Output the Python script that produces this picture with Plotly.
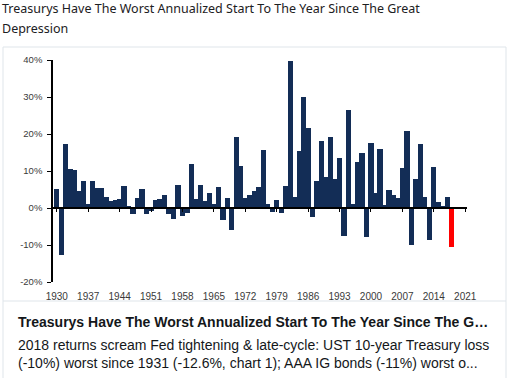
import plotly.graph_objects as go

years = list(range(1930, 2019))
returns_pct = [
    5.1, -12.6, 17.4, 10.6, 10.4, 4.7, 7.2, 1.1, 7.4, 5.5,
    5.3, 2.9, 1.9, 2.2, 2.4, 6.0, 0.6, -1.6, 2.8, 5.2,
    -1.5, -0.8, 2.1, 2.5, 3.5, -1.5, -3.0, 6.3, -2.2, -1.4,
    12.0, 2.4, 6.1, 2.0, 4.0, 1.1, 5.8, -3.2, 2.6, -5.9,
    19.3, 11.4, 2.8, 3.6, 4.5, 5.8, 15.7, 1.0, -1.0, 2.2,
    -1.3, 5.9, 39.7, 3.0, 15.5, 30.1, 21.6, -2.4, 7.2, 18.2,
    8.3, 19.2, 7.9, 13.5, -7.7, 26.4, 1.0, 12.3, 15.0, -7.8,
    17.6, 4.0, 15.9, 0.8, 5.0, 3.5, 2.6, 10.9, 20.7, -10.0,
    7.9, 17.2, 3.1, -8.7, 11.2, 1.5, 0.5, 3.1, -10.6,
]
highlight_year = 2018
x_tick_years = list(range(1930, 2022, 7))
y_ticks = [-20, -10, 0, 10, 20, 30, 40]
y_tick_labels = ["-20%", "-10%", "0%", "10%", "20%", "30%", "40%"]

tweet_title = ["Treasurys Have The Worst Annualized Start To The Year Since The Great",
               "Depression"]
card_title = "Treasurys Have The Worst Annualized Start To The Year Since The G\u2026"
card_body = ["2018 returns scream Fed tightening & late-cycle: UST 10-year Treasury loss",
             "(-10%) worst since 1931 (-12.6%, chart 1); AAA IG bonds (-11%) worst o..."]

W, H = 512, 378
L, R, T, B = 53, 467, 60, 282
NAVY = "#132d56"

def px(x):
    return (x - L) / (R - L)

def py(y):
    return (B - y) / (B - T)

colors = ["#ff0000" if yr == highlight_year else NAVY for yr in years]

fig = go.Figure()
fig.add_trace(go.Bar(x=years, y=returns_pct,
                     marker=dict(color=colors, line=dict(width=0)),
                     width=1.18, showlegend=False, hoverinfo="x+y"))

xr = [1929.15, 2021.4]
fig.update_layout(
    width=W, height=H,
    margin=dict(l=L, r=W - R, t=T, b=H - B, pad=0),
    paper_bgcolor="white", plot_bgcolor="white",
    bargap=0,
    xaxis=dict(range=xr, tickvals=x_tick_years, ticktext=[str(v) for v in x_tick_years],
               showgrid=False, zeroline=False, showline=False, ticks="",
               tickfont=dict(family="Liberation Sans, Arial", size=10, color="#3a3a3a"),
               ticklabelstandoff=7),
    xaxis2=dict(range=xr, overlaying="x", anchor="free", position=1/3,
                tickvals=x_tick_years, showticklabels=False, ticks="outside", ticklen=3,
                tickcolor="black", tickwidth=1, showline=True, linecolor="black", linewidth=2,
                showgrid=False, zeroline=False, side="bottom"),
    yaxis=dict(range=[-20, 40], tickvals=y_ticks, ticktext=y_tick_labels,
               showgrid=False, zeroline=False, showline=True, linecolor="black", linewidth=1.5,
               ticks="outside", ticklen=4, tickcolor="black",
               tickfont=dict(family="Liberation Sans, Arial", size=9.5, color="#3a3a3a"),
               ticklabelstandoff=3),
)
fig.add_trace(go.Scatter(x=[xr[0]], y=[0], xaxis="x2", yaxis="y", mode="markers",
                         marker=dict(opacity=0), showlegend=False, hoverinfo="skip"))

shapes = []
shapes.append(dict(type="rect", xref="paper", yref="paper",
                   x0=px(3), x1=px(506), y0=py(390), y1=py(47),
                   line=dict(color="#dfe5ea", width=1), fillcolor="rgba(0,0,0,0)", layer="below"))
shapes.append(dict(type="line", xref="paper", yref="paper",
                   x0=px(3), x1=px(506), y0=py(301), y1=py(301),
                   line=dict(color="#dfe5ea", width=1)))
fig.update_layout(shapes=shapes)

ann = []
for i, line in enumerate(tweet_title):
    ann.append(dict(text=line, xref="paper", yref="paper", x=px(0), y=py(9 + i * 19.5),
                    xanchor="left", yanchor="middle", showarrow=False,
                    font=dict(family="Noto Sans", size=12.5, color="#1c2022")))
ann.append(dict(text="<b>" + card_title + "</b>", xref="paper", yref="paper", x=px(16), y=py(322),
                xanchor="left", yanchor="middle", showarrow=False,
                font=dict(family="Liberation Sans, Arial", size=14, color="#14171a")))
for i, line in enumerate(card_body):
    ann.append(dict(text=line, xref="paper", yref="paper", x=px(16), y=py(344.5 + i * 18.5),
                    xanchor="left", yanchor="middle", showarrow=False,
                    font=dict(family="Liberation Sans, Arial", size=14, color="#14171a")))
fig.update_layout(annotations=ann)

fig.write_html("out.html", config={"displayModeBar": False},
               post_script="document.body.style.margin='0';document.body.style.padding='0';document.body.style.overflow='hidden';")
